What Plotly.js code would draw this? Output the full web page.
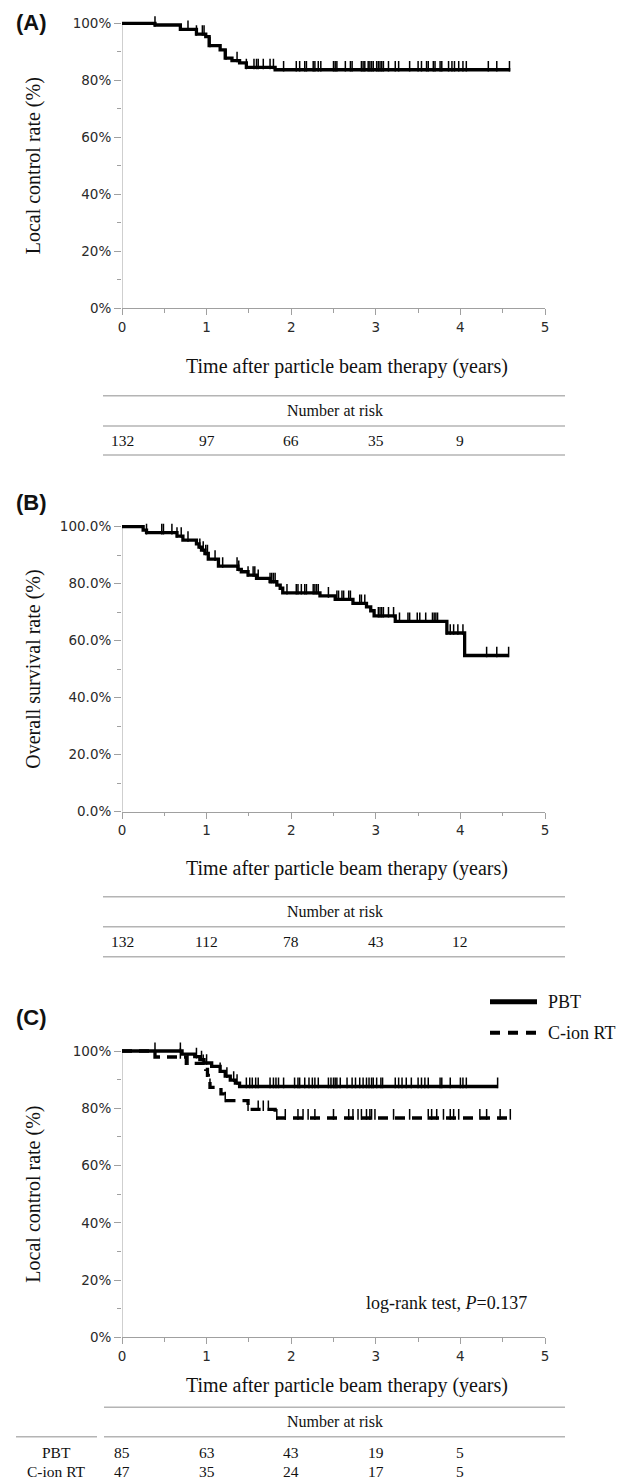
<!DOCTYPE html>
<html>
<head>
<meta charset="utf-8">
<script src="https://cdn.plot.ly/plotly-3.0.1.min.js"></script>
<style>
  html, body { margin: 0; padding: 0; background: #fff; }
  #chart { width: 630px; height: 1482px; }
</style>
</head>
<body>
<div id="chart"></div>
<script>
// ---------------- DATA ----------------
// Panel A: local control (all patients)
const A_time = [0, 0.39, 0.69, 0.88, 0.99, 1.03, 1.16, 1.22, 1.30, 1.39, 1.47, 1.81, 4.59];
const A_surv = [100, 99.4, 97.9, 96.2, 95.3, 92.2, 90.7, 87.8, 86.9, 86.1, 84.5, 83.7, 83.7];
const A_cens = [0.39, 0.78, 0.88, 0.95, 0.97, 1.04, 1.23, 1.36, 1.47, 1.56, 1.59, 1.61, 1.67, 1.75, 1.79,
  1.91, 2.06, 2.10, 2.16, 2.18, 2.26, 2.28, 2.32, 2.35, 2.50, 2.52, 2.54, 2.64, 2.70, 2.72, 2.83, 2.85,
  2.87, 2.91, 2.93, 2.95, 2.97, 3.01, 3.03, 3.05, 3.07, 3.09, 3.15, 3.23, 3.27, 3.40, 3.50, 3.54, 3.60,
  3.62, 3.68, 3.70, 3.76, 3.78, 3.86, 3.90, 3.93, 3.98, 4.03, 4.07, 4.33, 4.43, 4.58];

// Panel B: overall survival
const B_time = [0, 0.25, 0.29, 0.65, 0.72, 0.88, 0.91, 0.94, 0.98, 1.02, 1.14, 1.37, 1.41, 1.49, 1.59,
  1.75, 1.83, 1.87, 1.90, 2.34, 2.52, 2.73, 2.89, 2.94, 2.98, 3.23, 3.84, 4.05, 4.57];
const B_surv = [100, 98.8, 97.9, 96.7, 95.3, 94.0, 92.8, 91.8, 90.6, 88.6, 86.2, 85.0, 84.2, 83.0, 81.9,
  80.7, 79.5, 78.4, 76.8, 75.7, 74.5, 73.1, 71.9, 70.5, 68.7, 66.8, 62.7, 54.8, 54.8];
const B_cens = [0.29, 0.47, 0.49, 0.59, 0.65, 0.70, 0.78, 0.92, 0.96, 0.99, 1.01, 1.10, 1.19, 1.36, 1.38,
  1.49, 1.55, 1.57, 1.61, 1.75, 1.77, 1.79, 1.81, 1.95, 2.06, 2.08, 2.12, 2.16, 2.18, 2.26, 2.28, 2.30,
  2.32, 2.44, 2.54, 2.56, 2.60, 2.62, 2.68, 2.70, 2.81, 2.83, 2.87, 3.03, 3.05, 3.07, 3.09, 3.15, 3.21,
  3.28, 3.38, 3.40, 3.49, 3.52, 3.59, 3.67, 3.69, 3.71, 3.73, 3.84, 3.88, 3.92, 3.97, 4.03, 4.31, 4.43, 4.57];

// Panel C: local control by modality
const PBT_time = [0, 0.71, 0.86, 0.92, 0.97, 1.06, 1.16, 1.22, 1.28, 1.34, 1.39, 4.44];
const PBT_surv = [100, 98.9, 98.0, 97.0, 95.8, 94.6, 92.9, 91.2, 89.8, 88.8, 87.6, 87.6];
const PBT_cens = [0.39, 0.69, 0.88, 0.94, 1.00, 1.16, 1.24, 1.32, 1.36, 1.47, 1.51, 1.54, 1.58, 1.61,
  1.75, 1.79, 1.82, 1.85, 1.91, 2.04, 2.08, 2.10, 2.16, 2.21, 2.25, 2.28, 2.32, 2.44, 2.47, 2.50, 2.52,
  2.54, 2.58, 2.66, 2.72, 2.76, 2.81, 2.85, 2.89, 2.92, 2.95, 2.97, 3.01, 3.06, 3.08, 3.23, 3.27, 3.31,
  3.36, 3.42, 3.50, 3.54, 3.58, 3.62, 3.76, 3.78, 3.88, 4.00, 4.03, 4.07, 4.44];
const CION_time = [0, 0.39, 0.76, 0.99, 1.01, 1.02, 1.04, 1.17, 1.21, 1.49, 1.81, 4.59];
const CION_surv = [100, 97.9, 95.7, 93.6, 91.5, 89.4, 87.3, 85.0, 82.7, 79.6, 76.6, 76.6];
const CION_cens = [0.69, 0.78, 0.96, 1.04, 1.22, 1.49, 1.61, 1.67, 1.73, 1.83, 1.93, 2.08, 2.14, 2.20,
  2.28, 2.50, 2.68, 2.73, 2.79, 2.83, 2.89, 2.93, 2.95, 2.99, 3.21, 3.40, 3.62, 3.66, 3.72, 3.80, 3.88,
  3.92, 3.98, 4.23, 4.31, 4.47, 4.59];

// Number at risk
const risk_times = [0, 1, 2, 3, 4];
const A_risk = [132, 97, 66, 35, 9];
const B_risk = [132, 112, 78, 43, 12];
const PBT_risk = [85, 63, 43, 19, 5];
const CION_risk = [47, 35, 24, 17, 5];

// Tick labels
const x_ticks = [0, 1, 2, 3, 4, 5];
const y_ticks = [0, 20, 40, 60, 80, 100];
const yA_labels = ['0%', '20%', '40%', '60%', '80%', '100%'];
const yB_labels = ['0.0%', '20.0%', '40.0%', '60.0%', '80.0%', '100.0%'];
const yC_labels = ['0%', '20%', '40%', '60%', '80%', '100%'];

// Texts
const panel_labels = ['(A)', '(B)', '(C)'];
const y_titles = ['Local control rate (%)', 'Overall survival rate (%)', 'Local control rate (%)'];
const x_title = 'Time after particle beam therapy (years)';
const group_names = ['PBT', 'C-ion RT'];

// ---------------- HELPERS ----------------
const W = 630, H = 1482;
const PX = p => p / W;
const PY = p => 1 - p / H;
function levelAt(times, surv, t) {
  let v = surv[0];
  for (let i = 0; i < times.length; i++) if (times[i] <= t) v = surv[i];
  return v;
}
const AXIS_GRAY = '#a0a0a0';
const TICK_FONT = { family: 'DejaVu Sans, Verdana, sans-serif', size: 13.5, color: '#2a2a2a' };
const SERIF = 'Liberation Serif, Times New Roman, serif';

// panel geometry (pixel positions of 0% and 100%)
const panels = [
  { zero: 308.3, full: 23.3 },
  { zero: 811.7, full: 526.7 },
  { zero: 1337.3, full: 1051.0 }
];
const YMAX = 103;
function ydomain(p) {
  const u = (p.zero - p.full) / 100;
  const top = p.full - (YMAX - 100) * u;
  return [PY(p.zero), PY(top)];
}
const xdom = [PX(122), PX(545)];

function stepTrace(t, s, xa, ya, dash) {
  return {
    x: t, y: s, xaxis: xa, yaxis: ya, type: 'scatter', mode: 'lines',
    line: { shape: 'hv', color: '#000', width: 3.3, dash: dash || 'solid' },
    hoverinfo: 'skip'
  };
}
function censTrace(cens, t, s, xa, ya) {
  return {
    x: cens, y: cens.map(c => levelAt(t, s, c)), xaxis: xa, yaxis: ya,
    type: 'scatter', mode: 'markers',
    marker: { size: 1, color: 'rgba(0,0,0,0)' },
    error_y: { type: 'constant', symmetric: false, value: 3.1, valueminus: 0.6,
               width: 0, thickness: 1.5, color: '#000' },
    hoverinfo: 'skip'
  };
}

const data = [
  stepTrace(A_time, A_surv, 'x', 'y'),
  censTrace(A_cens, A_time, A_surv, 'x', 'y'),
  stepTrace(B_time, B_surv, 'x2', 'y2'),
  censTrace(B_cens, B_time, B_surv, 'x2', 'y2'),
  stepTrace(CION_time, CION_surv, 'x3', 'y3', '10px,7px'),
  censTrace(CION_cens, CION_time, CION_surv, 'x3', 'y3'),
  stepTrace(PBT_time, PBT_surv, 'x3', 'y3'),
  censTrace(PBT_cens, PBT_time, PBT_surv, 'x3', 'y3')
];

function xaxisDef(anchor) {
  return {
    domain: xdom, anchor: anchor, range: [0, 5], tickmode: 'array', tickvals: x_ticks,
    ticktext: x_ticks.map(String), ticks: 'outside', ticklen: 6, tickwidth: 1, tickcolor: AXIS_GRAY,
    showline: true, linecolor: AXIS_GRAY, linewidth: 1, showgrid: false, zeroline: false,
    tickfont: TICK_FONT, fixedrange: true,
    minor: { dtick: 0.5, tick0: 0, ticks: 'outside', ticklen: 3.5, tickcolor: AXIS_GRAY, showgrid: false }
  };
}
function yaxisDef(anchor, p, labels) {
  return {
    domain: ydomain(p), anchor: anchor, range: [0, YMAX], tickmode: 'array', tickvals: y_ticks,
    ticktext: labels, ticks: 'outside', ticklen: 7, tickwidth: 1, tickcolor: AXIS_GRAY,
    showline: false, showgrid: false, zeroline: false, tickfont: TICK_FONT, fixedrange: true,
    minor: { dtick: 10, tick0: 0, ticks: 'outside', ticklen: 4.5, tickcolor: AXIS_GRAY, showgrid: false }
  };
}

const shapes = [];
const annotations = [];

// y-axis lines from 0 to 100 only
[['x', 'y'], ['x2', 'y2'], ['x3', 'y3']].forEach(([xa, ya]) => {
  shapes.push({ type: 'line', xref: xa, yref: ya, x0: 0, x1: 0, y0: 0, y1: 100,
                line: { color: AXIS_GRAY, width: 1 }, layer: 'below' });
});

// Panel labels, axis titles
const labelY = [23, 503, 1017];
const xTitleY = [367, 868.3, 1385];
panels.forEach((p, i) => {
  annotations.push({ xref: 'paper', yref: 'paper', x: PX(31.5), y: PY(labelY[i]),
    text: '<b>' + panel_labels[i] + '</b>', showarrow: false, xanchor: 'center', yanchor: 'middle',
    font: { family: 'Liberation Sans, Arial, sans-serif', size: 22, color: '#111' } });
  annotations.push({ xref: 'paper', yref: 'paper', x: PX(33.5), y: PY((p.zero + p.full) / 2),
    text: y_titles[i], textangle: -90, showarrow: false, xanchor: 'center', yanchor: 'middle',
    font: { family: SERIF, size: 20, color: '#111' } });
  annotations.push({ xref: 'paper', yref: 'paper', x: PX(347), y: PY(xTitleY[i]),
    text: x_title, showarrow: false, xanchor: 'center', yanchor: 'middle',
    font: { family: SERIF, size: 20, color: '#111' } });
});

// Risk tables
const TABLE_GRAY = '#b4b4b4';
function hline(x0, x1, y) {
  shapes.push({ type: 'line', xref: 'paper', yref: 'paper', x0: PX(x0), x1: PX(x1), y0: PY(y), y1: PY(y),
                line: { color: TABLE_GRAY, width: 1.5 } });
}
function riskText(xa, vals, y) {
  vals.forEach((v, i) => {
    annotations.push({ xref: xa, yref: 'paper', x: risk_times[i], y: PY(y), text: String(v),
      showarrow: false, xanchor: 'center', yanchor: 'middle',
      font: { family: SERIF, size: 15.5, color: '#111' } });
  });
}
function nar(y) {
  annotations.push({ xref: 'paper', yref: 'paper', x: PX(334.5), y: PY(y), text: 'Number at risk',
    showarrow: false, xanchor: 'center', yanchor: 'middle', font: { family: SERIF, size: 16, color: '#111' } });
}
// A
hline(103, 565, 395.7); hline(103, 565, 426); hline(103, 565, 455);
nar(410); riskText('x', A_risk, 440.5);
// B
hline(103, 565, 896.7); hline(103, 565, 926.7); hline(103, 565, 956.7);
nar(911.7); riskText('x2', B_risk, 941.7);
// C
hline(104, 565, 1407.3); hline(104, 565, 1436.7); hline(16, 97, 1436.7);
nar(1421.7);
riskText('x3', PBT_risk, 1452.3);
riskText('x3', CION_risk, 1471.7);
[[group_names[0], 1452.3], [group_names[1], 1471.7]].forEach(([t, y]) => {
  annotations.push({ xref: 'paper', yref: 'paper', x: PX(56), y: PY(y), text: t, showarrow: false,
    xanchor: 'center', yanchor: 'middle', font: { family: SERIF, size: 15.5, color: '#111' } });
});

// Panel C legend
shapes.push({ type: 'line', xref: 'paper', yref: 'paper', x0: PX(490), x1: PX(537), y0: PY(1001.7), y1: PY(1001.7),
              line: { color: '#000', width: 5 } });
shapes.push({ type: 'line', xref: 'paper', yref: 'paper', x0: PX(490), x1: PX(537), y0: PY(1032.7), y1: PY(1032.7),
              line: { color: '#000', width: 4, dash: '10px,8px' } });
[[group_names[0], 1001.7], [group_names[1], 1032.7]].forEach(([t, y]) => {
  annotations.push({ xref: 'paper', yref: 'paper', x: PX(546), y: PY(y), text: t, showarrow: false,
    xanchor: 'left', yanchor: 'middle', font: { family: SERIF, size: 18, color: '#111' } });
});

// log-rank text
annotations.push({ xref: 'paper', yref: 'paper', x: PX(446), y: PY(1303.3),
  text: 'log-rank test, <i>P</i>=0.137', showarrow: false, xanchor: 'center', yanchor: 'middle',
  font: { family: SERIF, size: 18, color: '#111' } });

const layout = {
  width: W, height: H, margin: { l: 0, r: 0, t: 0, b: 0 },
  paper_bgcolor: '#fff', plot_bgcolor: '#fff', showlegend: false,
  xaxis: xaxisDef('y'), yaxis: yaxisDef('x', panels[0], yA_labels),
  xaxis2: xaxisDef('y2'), yaxis2: yaxisDef('x2', panels[1], yB_labels),
  xaxis3: xaxisDef('y3'), yaxis3: yaxisDef('x3', panels[2], yC_labels),
  shapes: shapes, annotations: annotations
};

Plotly.newPlot('chart', data, layout, { staticPlot: true, displayModeBar: false });
</script>
</body>
</html>
